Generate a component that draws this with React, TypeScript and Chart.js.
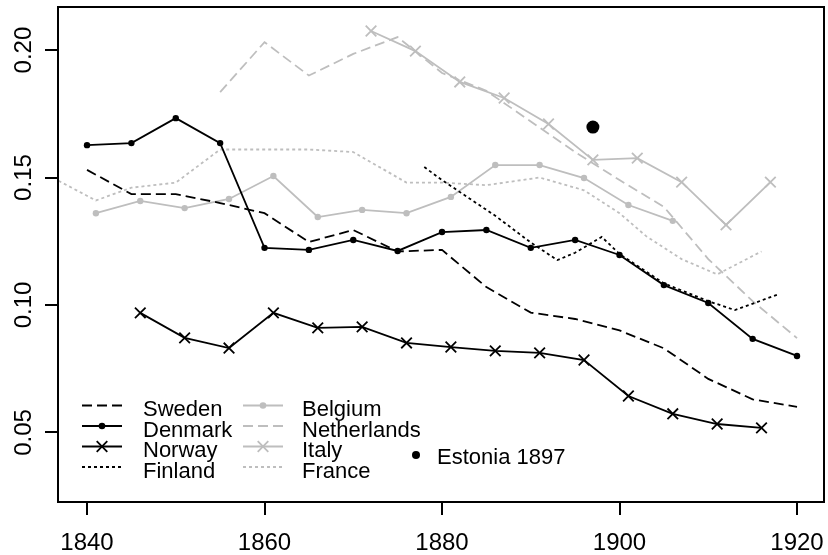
import React, { useEffect, useRef } from 'react';
import { Chart, registerables } from 'chart.js';

Chart.register(...registerables);

// ---- data ----
const swedenYears = [1840, 1845, 1850, 1855, 1860, 1865, 1870, 1875, 1880, 1885, 1890, 1895, 1900, 1905, 1910, 1915, 1920];
const swedenValues = [0.153, 0.1435, 0.1435, 0.140, 0.136, 0.1247, 0.1294, 0.121, 0.1216, 0.107, 0.097, 0.0945, 0.090, 0.083, 0.071, 0.063, 0.060];

const denmarkYears = [1840, 1845, 1850, 1855, 1860, 1865, 1870, 1875, 1880, 1885, 1890, 1895, 1900, 1905, 1910, 1915, 1920];
const denmarkValues = [0.1627, 0.1635, 0.1733, 0.1635, 0.1224, 0.1216, 0.1255, 0.1212, 0.1286, 0.1294, 0.1224, 0.1255, 0.1196, 0.1078, 0.1008, 0.0867, 0.080];

const norwayYears = [1846, 1851, 1856, 1861, 1866, 1871, 1876, 1881, 1886, 1891, 1896, 1901, 1906, 1911, 1916];
const norwayValues = [0.0969, 0.0871, 0.0831, 0.0969, 0.0910, 0.0914, 0.0851, 0.0835, 0.0820, 0.0812, 0.0784, 0.0643, 0.0573, 0.0533, 0.0518];

const finlandYears = [1878, 1880, 1886, 1890, 1893, 1895, 1898, 1900, 1905, 1910, 1913, 1918];
const finlandValues = [0.1541, 0.149, 0.135, 0.1245, 0.1176, 0.1205, 0.1267, 0.1200, 0.1085, 0.1015, 0.098, 0.1043];

const belgiumYears = [1841, 1846, 1851, 1856, 1861, 1866, 1871, 1876, 1881, 1886, 1891, 1896, 1901, 1906];
const belgiumValues = [0.136, 0.1408, 0.138, 0.1416, 0.1506, 0.1345, 0.1373, 0.136, 0.1424, 0.1549, 0.1549, 0.1498, 0.1392, 0.133];

const netherlandsYears = [1855, 1860, 1865, 1870, 1875, 1880, 1885, 1890, 1895, 1900, 1905, 1910, 1915, 1920];
const netherlandsValues = [0.1835, 0.2031, 0.190, 0.1985, 0.2051, 0.191, 0.184, 0.172, 0.160, 0.149, 0.1385, 0.118, 0.1015, 0.087];

const italyYears = [1872, 1877, 1882, 1887, 1892, 1897, 1902, 1907, 1912, 1917];
const italyValues = [0.2075, 0.1996, 0.1875, 0.1812, 0.171, 0.1569, 0.1576, 0.1482, 0.1314, 0.1482];

const franceYears = [1835, 1841, 1845, 1850, 1855, 1860, 1865, 1870, 1876, 1880, 1885, 1891, 1896, 1900, 1903, 1907, 1911, 1916];
const franceValues = [0.152, 0.141, 0.146, 0.148, 0.161, 0.161, 0.161, 0.160, 0.148, 0.148, 0.147, 0.150, 0.145, 0.136, 0.127, 0.118, 0.112, 0.121];

const estoniaYears = [1897];
const estoniaValues = [0.1698];

const xTickValues = [1840, 1860, 1880, 1900, 1920];
const yTickValues = [0.05, 0.10, 0.15, 0.20];
const xLimits = [1836.73, 1923.04];
const yLimits = [0.0227, 0.2169];

const legendCol1 = ['Sweden', 'Denmark', 'Norway', 'Finland'];
const legendCol2 = ['Belgium', 'Netherlands', 'Italy', 'France'];
const legendExtra = 'Estonia 1897';

// ---- styles / layout ----
const FONT = '"Liberation Sans", Arial, Helvetica, sans-serif';
const BLACK = '#000000';
const GRAY = '#bebebe';
const LW = 1.8;
const DASH = [10, 5];
const DOT = [3, 3];
const AREA = { left: 58, top: 7, right: 824, bottom: 502 };
const W = 828;
const H = 555;

function pts(xs: number[], ys: number[]) {
  return xs.map((x, i) => ({ x, y: ys[i] }));
}

function lineDs(label: string, xs: number[], ys: number[], color: string, dash: number[], pointStyle: any, radius: number) {
  return {
    label,
    data: pts(xs, ys),
    borderColor: color,
    backgroundColor: color,
    borderWidth: LW,
    borderDash: dash,
    pointStyle: pointStyle || 'circle',
    pointRadius: radius,
    pointHoverRadius: radius,
    pointBorderWidth: pointStyle === 'crossRot' ? LW : 0,
    pointBorderColor: color,
    pointBackgroundColor: color,
    tension: 0,
    fill: false,
  };
}

const fixAreaPlugin = {
  id: 'fixArea',
  afterLayout(chart: any) {
    const xs = chart.scales.x;
    const ys = chart.scales.y;
    xs.left = AREA.left; xs.right = AREA.right; xs.width = AREA.right - AREA.left;
    xs.top = AREA.bottom; xs.bottom = H; xs.height = H - AREA.bottom;
    ys.left = 0; ys.right = AREA.left; ys.width = AREA.left;
    ys.top = AREA.top; ys.bottom = AREA.bottom; ys.height = AREA.bottom - AREA.top;
    chart.chartArea = {
      left: AREA.left, top: AREA.top, right: AREA.right, bottom: AREA.bottom,
      width: AREA.right - AREA.left, height: AREA.bottom - AREA.top,
    };
    xs.configure();
    ys.configure();
  },
};

const boxPlugin = {
  id: 'rBox',
  afterDraw(chart: any) {
    const { ctx, chartArea } = chart;
    ctx.save();
    ctx.strokeStyle = BLACK;
    ctx.lineWidth = 2;
    ctx.setLineDash([]);
    ctx.strokeRect(chartArea.left, chartArea.top, chartArea.right - chartArea.left, chartArea.bottom - chartArea.top);
    ctx.restore();
  },
};

const legendPlugin = {
  id: 'rLegend',
  afterDraw(chart: any) {
    const ctx = chart.ctx;
    const dsets = chart.data.datasets;
    const byLabel: Record<string, any> = {};
    dsets.forEach((d: any) => (byLabel[d.label] = d));
    const baselines = [416, 436.5, 457, 477.5];
    ctx.save();
    ctx.font = `22px ${FONT}`;
    ctx.textBaseline = 'alphabetic';
    ctx.textAlign = 'left';
    const drawItem = (label: string, x0: number, x1: number, tx: number, base: number) => {
      const d = byLabel[label];
      const ly = base - 10.5;
      ctx.strokeStyle = d.borderColor;
      ctx.lineWidth = LW;
      ctx.setLineDash(d.borderDash || []);
      ctx.beginPath();
      ctx.moveTo(x0, ly);
      ctx.lineTo(x1, ly);
      ctx.stroke();
      ctx.setLineDash([]);
      const cx = (x0 + x1) / 2;
      if (d.pointRadius > 0) {
        if (d.pointStyle === 'crossRot') {
          const r = 5.3;
          ctx.beginPath();
          ctx.moveTo(cx - r, ly - r);
          ctx.lineTo(cx + r, ly + r);
          ctx.moveTo(cx - r, ly + r);
          ctx.lineTo(cx + r, ly - r);
          ctx.stroke();
        } else {
          ctx.fillStyle = d.borderColor;
          ctx.beginPath();
          ctx.arc(cx, ly, 3.3, 0, Math.PI * 2);
          ctx.fill();
        }
      }
      ctx.fillStyle = BLACK;
      ctx.fillText(label, tx, base);
    };
    legendCol1.forEach((l, i) => drawItem(l, 82, 122, 143, baselines[i]));
    legendCol2.forEach((l, i) => drawItem(l, 243, 283, 302, baselines[i]));
    ctx.fillStyle = BLACK;
    ctx.beginPath();
    ctx.arc(416, 455, 4, 0, Math.PI * 2);
    ctx.fill();
    ctx.fillText(legendExtra, 437, 464);
    ctx.restore();
  },
};

export default function App() {
  const canvasRef = useRef<HTMLCanvasElement | null>(null);

  useEffect(() => {
    const canvas = canvasRef.current;
    if (!canvas) return;
    const datasets: any[] = [
      lineDs('Sweden', swedenYears, swedenValues, BLACK, DASH, 'circle', 0),
      lineDs('Denmark', denmarkYears, denmarkValues, BLACK, [], 'circle', 3.2),
      lineDs('Norway', norwayYears, norwayValues, BLACK, [], 'crossRot', 7.5),
      lineDs('Finland', finlandYears, finlandValues, BLACK, DOT, 'circle', 0),
      lineDs('Belgium', belgiumYears, belgiumValues, GRAY, [], 'circle', 3.2),
      lineDs('Netherlands', netherlandsYears, netherlandsValues, GRAY, DASH, 'circle', 0),
      lineDs('Italy', italyYears, italyValues, GRAY, [], 'crossRot', 7.5),
      lineDs('France', franceYears, franceValues, GRAY, DOT, 'circle', 0),
      {
        label: 'Estonia 1897',
        data: pts(estoniaYears, estoniaValues),
        showLine: false,
        pointStyle: 'circle',
        pointRadius: 6.5,
        pointHoverRadius: 6.5,
        pointBackgroundColor: BLACK,
        pointBorderWidth: 0,
        borderColor: BLACK,
        backgroundColor: BLACK,
      },
    ];

    const chart = new Chart(canvas, {
      type: 'line',
      data: { datasets },
      options: {
        animation: false,
        responsive: false,
        maintainAspectRatio: false,
        devicePixelRatio: 1,
        layout: { padding: { top: 7, right: 4, left: 0, bottom: 0 } },
        plugins: {
          legend: { display: false },
          tooltip: { enabled: false },
        },
        scales: {
          x: {
            type: 'linear',
            min: xLimits[0],
            max: xLimits[1],
            afterBuildTicks: (s: any) => {
              s.ticks = xTickValues.map((v) => ({ value: v }));
            },
            afterFit: (s: any) => {
              s.height = H - AREA.bottom;
              s.paddingLeft = 0;
              s.paddingRight = 0;
            },
            border: { display: false },
            grid: {
              drawOnChartArea: false,
              drawTicks: true,
              tickLength: 13,
              tickWidth: 2,
              color: BLACK,
              lineWidth: 2,
            },
            ticks: {
              autoSkip: false,
              maxRotation: 0,
              minRotation: 0,
              padding: 13.5,
              color: BLACK,
              font: { family: FONT, size: 24 },
              callback: (v: any) => String(v),
            },
          },
          y: {
            type: 'linear',
            min: yLimits[0],
            max: yLimits[1],
            afterBuildTicks: (s: any) => {
              s.ticks = yTickValues.map((v) => ({ value: v }));
            },
            afterFit: (s: any) => {
              s.width = AREA.left;
              s.paddingTop = 0;
              s.paddingBottom = 0;
            },
            border: { display: false },
            grid: {
              drawOnChartArea: false,
              drawTicks: true,
              tickLength: 13,
              tickWidth: 2,
              color: BLACK,
              lineWidth: 2,
            },
            ticks: {
              autoSkip: false,
              minRotation: 90,
              maxRotation: 90,
              crossAlign: 'center',
              padding: -2.5,
              color: BLACK,
              font: { family: FONT, size: 24 },
              callback: (v: any) => Number(v).toFixed(2),
            },
          },
        },
      } as any,
      plugins: [fixAreaPlugin, boxPlugin, legendPlugin],
    });
    return () => chart.destroy();
  }, []);

  return (
    <div style={{ position: 'absolute', left: 0, top: 0, width: W, height: H, background: '#ffffff' }}>
      <canvas ref={canvasRef} width={W} height={H} style={{ display: 'block', width: W, height: H }} />
    </div>
  );
}
